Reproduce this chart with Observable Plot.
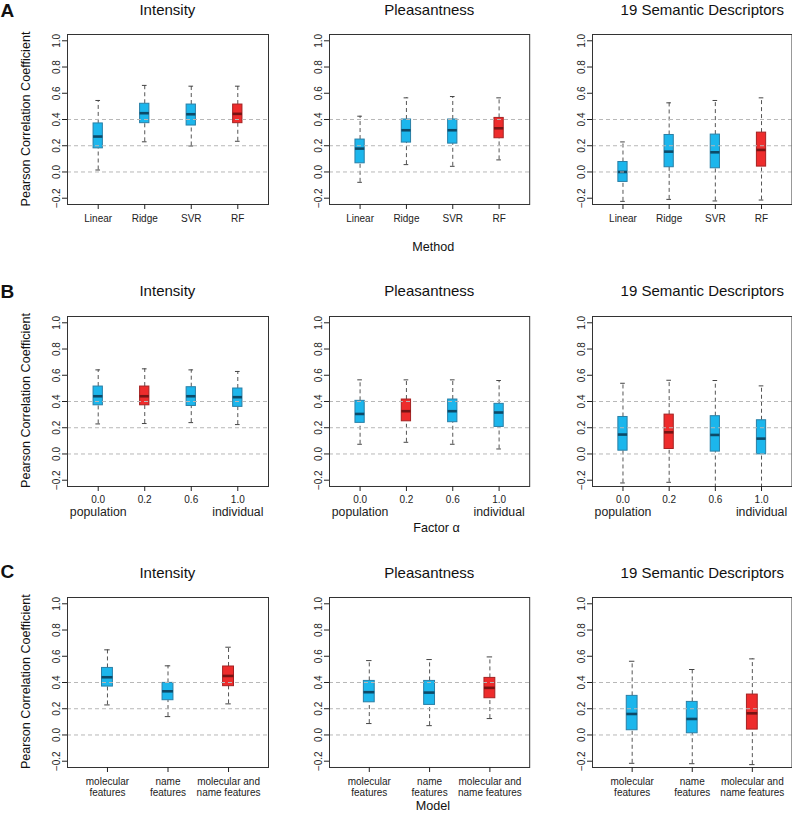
<!DOCTYPE html>
<html><head><meta charset="utf-8">
<script src="https://cdn.jsdelivr.net/npm/d3@7"></script>
<script src="https://cdn.jsdelivr.net/npm/@observablehq/plot@0.6"></script>
<style>
body{margin:0;background:#fff;}
#wrap{position:relative;width:792px;height:813px;overflow:hidden;font-family:"Liberation Sans",Arial,sans-serif;}
#wrap svg{position:absolute;}
</style></head><body><div id="wrap"></div>
<script>
// ---- text ----
const panelTitles = ["Intensity", "Pleasantness", "19 Semantic Descriptors"];
const rowLetters = ["A", "B", "C"];
const rowXTitles = ["Method", "Factor \u03b1", "Model"];
const yTitle = "Pearson Correlation Coefficient";
const methodLabels = ["Linear", "Ridge", "SVR", "RF"];
const alphaLabels = ["0.0", "0.2", "0.6", "1.0"];
const alphaEndLabels = ["population", "individual"];
const modelLabels = ["molecular\nfeatures", "name\nfeatures", "molecular and\nname features"];
const yTicks = [-0.2, 0, 0.2, 0.4, 0.6, 0.8, 1.0];
const gridValues = [0, 0.2, 0.4];

// ---- box statistics: [lower whisker, Q1, median, Q3, upper whisker] ----
const A_intensity = [
  [0.015, 0.18, 0.27, 0.37, 0.545],
  [0.23, 0.372, 0.448, 0.52, 0.66],
  [0.198, 0.354, 0.44, 0.514, 0.654],
  [0.234, 0.372, 0.443, 0.514, 0.654]];
const A_pleasantness = [
  [-0.079, 0.066, 0.178, 0.247, 0.425],
  [0.056, 0.224, 0.318, 0.40, 0.565],
  [0.043, 0.216, 0.318, 0.40, 0.575],
  [0.092, 0.257, 0.333, 0.412, 0.565]];
const A_semantic = [
  [-0.224, -0.076, 0.0, 0.076, 0.229],
  [-0.209, 0.036, 0.155, 0.282, 0.527],
  [-0.221, 0.028, 0.15, 0.285, 0.545],
  [-0.214, 0.041, 0.168, 0.30, 0.565]];
const B_intensity = [
  [0.229, 0.371, 0.44, 0.514, 0.641],
  [0.232, 0.371, 0.44, 0.514, 0.649],
  [0.239, 0.366, 0.44, 0.509, 0.641],
  [0.224, 0.359, 0.433, 0.499, 0.629]];
const B_pleasantness = [
  [0.074, 0.237, 0.305, 0.405, 0.565],
  [0.089, 0.249, 0.326, 0.415, 0.565],
  [0.074, 0.242, 0.326, 0.415, 0.565],
  [0.038, 0.206, 0.316, 0.382, 0.56]];
const B_semantic = [
  [-0.221, 0.025, 0.148, 0.282, 0.539],
  [-0.216, 0.038, 0.165, 0.30, 0.562],
  [-0.26, 0.018, 0.145, 0.288, 0.56],
  [-0.26, -0.003, 0.117, 0.257, 0.519]];
const C_intensity = [
  [0.229, 0.369, 0.44, 0.511, 0.649],
  [0.14, 0.265, 0.333, 0.397, 0.527],
  [0.237, 0.372, 0.45, 0.522, 0.669]];
const C_pleasantness = [
  [0.087, 0.249, 0.326, 0.412, 0.567],
  [0.071, 0.229, 0.323, 0.412, 0.575],
  [0.125, 0.28, 0.359, 0.435, 0.595]];
const C_semantic = [
  [-0.216, 0.036, 0.16, 0.298, 0.562],
  [-0.219, 0.013, 0.122, 0.252, 0.499],
  [-0.226, 0.041, 0.165, 0.308, 0.58]];
const highlighted = [3, 1, 2]; // red box index per row

// ---- layout ----
const rowTops = [34, 315.5, 596.7];
const colLefts = [67, 329.3, 591.7];
const colWidths = [201, 200.2, 199.5];
const frameH = 170;
const titleX = [167.4, 429.3, 702.3];
const titleY = [15, 296.2, 577.7];
const letterY = [16.7, 298.3, 578.3];
const xTitlePos = [[433.3, 250.7], [436.5, 531.5], [433, 809.5]];

const rows = [
  {labels: methodLabels, sets: [A_intensity, A_pleasantness, A_semantic], bw: 0.2, ends: null, pad: 4.5},
  {labels: alphaLabels, sets: [B_intensity, B_pleasantness, B_semantic], bw: 0.2, ends: alphaEndLabels, pad: 3.5},
  {labels: modelLabels, sets: [C_intensity, C_pleasantness, C_semantic], bw: 0.18, ends: null, pad: 4.5}
];

const wrap = document.getElementById("wrap");
const FONT = "'Liberation Sans', Arial, Helvetica, sans-serif";
const blueFill = "#1cb6ec", blueEdge = "#2a7fa6", blueMed = "#0d4a68";
const redFill = "#ee2c2c", redEdge = "#a52222", redMed = "#771414";

function panel(vals, row, hl, left, top, fw) {
  const {labels, ends, bw, pad} = row;
  const n = vals.length;
  const data = vals.map((v, k) => ({i: k + 1, lo: v[0], q1: v[1], med: v[2], q3: v[3], hi: v[4], hl: k === hl}));
  const blue = data.filter(d => !d.hl), red = data.filter(d => d.hl);
  const cw = bw / 4;
  const ML = 40, MR = 2, MT = 6, MB = 42;
  const bx1 = d => d.i - bw / 2, bx2 = d => d.i + bw / 2;
  const extra = ends ? [Plot.text(ends, {x: (d, k) => k === 0 ? 1 : n, text: d => d, frameAnchor: "bottom",
      dy: 25.3, lineAnchor: "middle", fontSize: 12.3, fill: "#222"})] : [];
  const svg = Plot.plot({
    width: ML + fw + MR, height: MT + frameH + MB,
    marginLeft: ML, marginRight: MR, marginTop: MT, marginBottom: MB,
    x: {domain: [0.34, n + 0.66], label: null},
    y: {domain: [-0.248, 1.048], label: null},
    style: {fontFamily: FONT, fontSize: "10px", color: "#222", background: "transparent", overflow: "visible"},
    marks: [
      Plot.ruleX(data, {x: "i", y1: "q3", y2: "hi", stroke: "#555", strokeDasharray: "4,3", clip: true}),
      Plot.ruleX(data, {x: "i", y1: "lo", y2: "q1", stroke: "#555", strokeDasharray: "4,3", clip: true}),
      Plot.ruleY(data, {y: "hi", x1: d => d.i - cw, x2: d => d.i + cw, stroke: "#444", clip: true}),
      Plot.ruleY(data, {y: "lo", x1: d => d.i - cw, x2: d => d.i + cw, stroke: "#444", clip: true}),
      Plot.rect(blue, {x1: bx1, x2: bx2, y1: "q1", y2: "q3", fill: blueFill, stroke: blueEdge}),
      Plot.rect(red, {x1: bx1, x2: bx2, y1: "q1", y2: "q3", fill: redFill, stroke: redEdge}),
      Plot.ruleY(blue, {y: "med", x1: bx1, x2: bx2, stroke: blueMed, strokeWidth: 2.6}),
      Plot.ruleY(red, {y: "med", x1: bx1, x2: bx2, stroke: redMed, strokeWidth: 2.6}),
      Plot.ruleY(gridValues, {stroke: "#b8b8b8", strokeDasharray: "4,3"}),
      Plot.frame({stroke: "#333"}),
      Plot.axisY({ticks: yTicks, tickFormat: d3.format(".1f"), tickRotate: -90, tickSize: 5, tickPadding: 3, label: null, fontSize: 10}),
      Plot.axisX({ticks: d3.range(1, n + 1), tickFormat: i => labels[i - 1], tickSize: 5, tickPadding: pad, label: null, fontSize: 10, lineHeight: 1.1}),
      ...extra
    ]
  });
  svg.style.left = (left - ML) + "px";
  svg.style.top = (top - MT) + "px";
  wrap.appendChild(svg);
}

rows.forEach((r, ri) => {
  r.sets.forEach((vals, ci) => {
    panel(vals, r, highlighted[ri], colLefts[ci], rowTops[ri], colWidths[ci]);
  });
});

// ---- annotation overlay ----
const ov = d3.select(wrap).append("svg")
  .attr("width", 792).attr("height", 813)
  .style("left", "0px").style("top", "0px")
  .attr("font-family", FONT).attr("fill", "#111");
rows.forEach((r, ri) => {
  panelTitles.forEach((t, ci) => {
    ov.append("text").attr("x", titleX[ci]).attr("y", titleY[ri]).attr("text-anchor", "middle")
      .attr("font-size", 15).text(t);
  });
  ov.append("text").attr("x", 0.5).attr("y", letterY[ri]).attr("font-size", 19).attr("font-weight", "bold").text(rowLetters[ri]);
  const cy = rowTops[ri] + frameH / 2;
  ov.append("text").attr("transform", `translate(29.5,${cy}) rotate(-90)`).attr("text-anchor", "middle")
    .attr("font-size", 12.6).text(yTitle);
  ov.append("text").attr("x", xTitlePos[ri][0]).attr("y", xTitlePos[ri][1]).attr("text-anchor", "middle")
    .attr("font-size", 12.6).text(rowXTitles[ri]);
});
</script>
</body></html>
